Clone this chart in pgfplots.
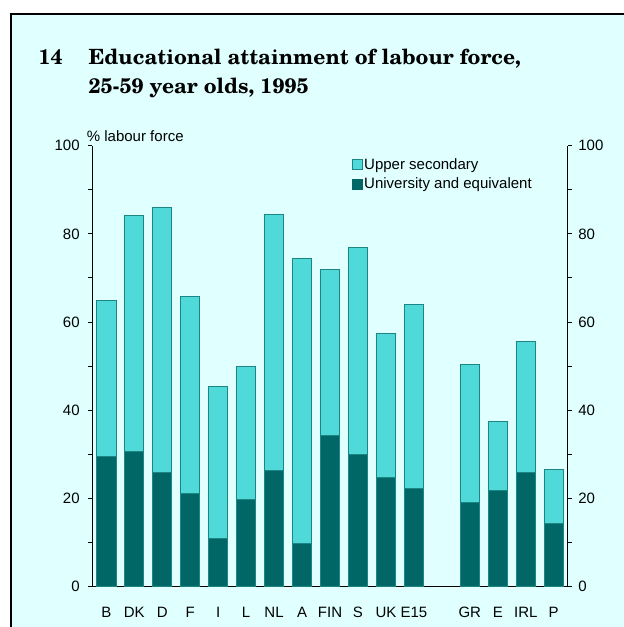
\documentclass[border=0pt]{standalone}
\usepackage{pgfplots}
\pgfplotsset{compat=1.18}
\usepackage{fontspec}
\setmainfont{Liberation Sans}
\newfontfamily\titlefont{TeX Gyre Schola}
\definecolor{bg}{HTML}{E0FFFF}
\definecolor{cyanbar}{HTML}{4FD9D9}
\definecolor{darkbar}{HTML}{006666}
\definecolor{baredge}{HTML}{1E8585}
\begin{document}
\begin{tikzpicture}[x=1pt,y=1pt]
\useasboundingbox (0,0) rectangle (624,627);
\fill[white] (0,0) rectangle (624,627);
\fill[bg] (10.5,0) rectangle (624,613);
\draw[black, line width=2pt] (10.5,0) -- (10.5,613) -- (624,613);
\node[anchor=base west, inner sep=0, font=\titlefont\bfseries\fontsize{21}{25}\selectfont] at (38.3,562) {14};
\node[anchor=base west, inner sep=0, font=\titlefont\bfseries\fontsize{21}{25}\selectfont] at (88.3,562) {Educational attainment of labour force,};
\node[anchor=base west, inner sep=0, font=\titlefont\bfseries\fontsize{21}{25}\selectfont] at (88.3,533) {25-59 year olds, 1995};
\begin{axis}[
  at={(92.3pt,40.3pt)}, anchor=south west, scale only axis,
  width=475.4pt, height=441pt,
  xmin=-0.5, xmax=16.5, ymin=0, ymax=100,
  ybar stacked, bar width=19.3pt,
  axis x line*=bottom, axis y line*=left,
  axis line style={-, line width=1.2pt, black},
  xtick={0,1,2,3,4,5,6,7,8,9,10,11,13,14,15,16},
  xticklabels={B,DK,D,F,I,L,NL,A,FIN,S,UK,E15,GR,E,IRL,P},
  x tick style={draw=none},
  ytick={0,20,40,60,80,100}, minor ytick={10,30,50,70,90},
  tick align=outside, major tick length=4.5pt, minor tick length=4.5pt,
  y tick style={black, line width=1pt},
  /pgf/number format/assume math mode=true,
  ticklabel style={font=\fontsize{15}{18}\selectfont},
  xticklabel style={anchor=base, yshift=-26.8pt},
  yticklabel style={anchor=east, inner sep=0pt, xshift=-8pt},
  reverse legend,
  legend style={at={(0.5456,0.9755)}, anchor=north west, draw=none, fill=none,
    inner sep=0pt, row sep=4.5pt, font=\fontsize{15}{18}\selectfont,
    nodes={inner sep=1.5pt}},
  legend cell align=left,
]
\addplot[fill=darkbar, draw=baredge, line width=0.8pt,
  legend image code/.code={\draw[fill=darkbar,draw=darkbar] (0pt,-5pt) rectangle (10pt,5pt);}]
  coordinates {(0,29.5) (1,30.6) (2,25.9) (3,21.2) (4,11.0) (5,19.7) (6,26.4) (7,9.8)
   (8,34.2) (9,29.9) (10,24.8) (11,22.2) (13,19.2) (14,21.8) (15,25.9) (16,14.3)};
\addlegendentry{University and equivalent}
\addplot[fill=cyanbar, draw=baredge, line width=0.8pt,
  legend image code/.code={\draw[fill=cyanbar,draw=baredge,line width=0.8pt] (0pt,-5pt) rectangle (10pt,5pt);}]
  coordinates {(0,35.5) (1,53.5) (2,60.1) (3,44.7) (4,34.4) (5,30.2) (6,58.0) (7,64.7)
   (8,37.8) (9,47.1) (10,32.7) (11,41.8) (13,31.1) (14,15.6) (15,29.8) (16,12.2)};
\addlegendentry{Upper secondary}
\end{axis}
\begin{axis}[
  at={(92.3pt,40.3pt)}, anchor=south west, scale only axis,
  width=475.4pt, height=441pt,
  xmin=-0.5, xmax=16.5, ymin=0, ymax=100,
  axis x line=none, axis y line*=right,
  axis line style={-, line width=1.2pt, black},
  ytick={0,20,40,60,80,100}, minor ytick={10,30,50,70,90},
  tick align=outside, major tick length=4.5pt, minor tick length=4.5pt,
  y tick style={black, line width=1pt},
  /pgf/number format/assume math mode=true,
  ticklabel style={font=\fontsize{15}{18}\selectfont},
  yticklabel style={anchor=west, inner sep=0pt, xshift=6pt},
]
\addplot[draw=none] coordinates {(0,0)};
\end{axis}
\node[anchor=west, inner sep=0, font=\fontsize{15}{18}\selectfont] at (86.7,491) {\% labour force};
\end{tikzpicture}
\end{document}
